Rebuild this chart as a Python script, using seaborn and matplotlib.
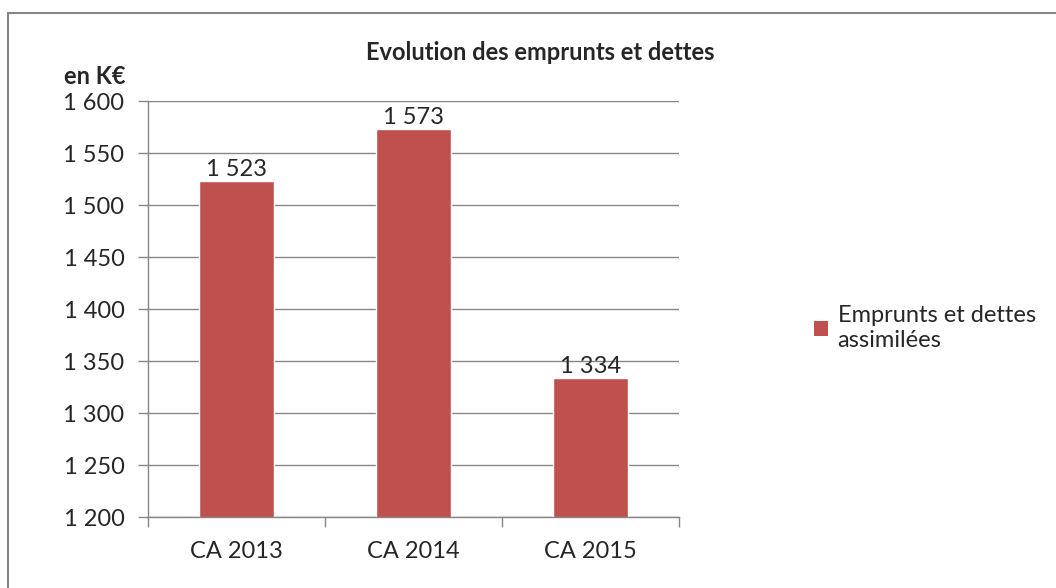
import pandas as pd
import seaborn as sns
import matplotlib.pyplot as plt
from matplotlib.lines import Line2D
from matplotlib.patches import Patch

categories = ["CA 2013", "CA 2014", "CA 2015"]
values = [1523, 1573, 1334]
series_name = "Emprunts et dettes\nassimilées"
yticks = [1200, 1250, 1300, 1350, 1400, 1450, 1500, 1550, 1600]

df = pd.DataFrame({"cat": categories, "val": values})

sns.set_style("white")
plt.rcParams["font.family"] = ["Lato", "DejaVu Sans"]

fig = plt.figure(figsize=(10.56, 5.88), dpi=100)
ax = fig.add_axes([148 / 1056, 1 - 517 / 588, (679 - 148) / 1056, (517 - 101) / 588])

sns.barplot(data=df, x="cat", y="val", color="#C0504D", width=0.42, saturation=1, ax=ax)

def fmt(v):
    return f"{v:,}".replace(",", " ")

ax.set_ylim(1200, 1600)
ax.set_xlim(-0.5, 2.5)
ax.set_yticks(yticks)
ax.set_yticklabels([fmt(t) for t in yticks])
ax.yaxis.grid(True, color="#868686", linewidth=1)
ax.set_axisbelow(True)
ax.set_xlabel("")
ax.set_ylabel("")

for s in ["top", "right"]:
    ax.spines[s].set_visible(False)
for s in ["left", "bottom"]:
    ax.spines[s].set_color("#868686")
    ax.spines[s].set_linewidth(1)

ax.set_xticks([-0.5, 0.5, 1.5, 2.5], minor=False)
ax.set_xticklabels([])
ax.set_xticks([0, 1, 2], minor=True)
ax.set_xticklabels(categories, minor=True)
ax.tick_params(axis="x", which="major", direction="out", length=7, color="#868686", width=1, bottom=True)
ax.tick_params(axis="x", which="minor", length=0, labelsize=17, pad=17)
ax.tick_params(axis="y", direction="out", length=7, color="#868686", width=1, left=True, labelsize=17, pad=10)

for i, v in enumerate(values):
    ax.text(i, v + 1, fmt(v), ha="center", va="bottom", fontsize=17)

fig.text(540 / 1056, 1 - 53 / 588, "Evolution des emprunts et dettes", ha="center", va="center",
         fontsize=17, fontweight="bold")
fig.text(64 / 1056, 1 - 76 / 588, "en K€", ha="left", va="center", fontsize=17, fontweight="bold")

handle = Patch(facecolor="#C0504D", edgecolor="none")
fig.legend([handle], [series_name], loc="center left", bbox_to_anchor=(814 / 1056, 1 - 328 / 588),
           frameon=False, fontsize=17, handlelength=0.6, handleheight=0.6, handletextpad=0.4,
           borderpad=0, borderaxespad=0)

fig.add_artist(Line2D([8 / 1056, 8 / 1056], [0, 1 - 13 / 588], transform=fig.transFigure, color="#868686", linewidth=1.5))
fig.add_artist(Line2D([8 / 1056, 1], [1 - 13 / 588, 1 - 13 / 588], transform=fig.transFigure, color="#868686", linewidth=1.5))

fig.savefig("out.png", dpi=100)
